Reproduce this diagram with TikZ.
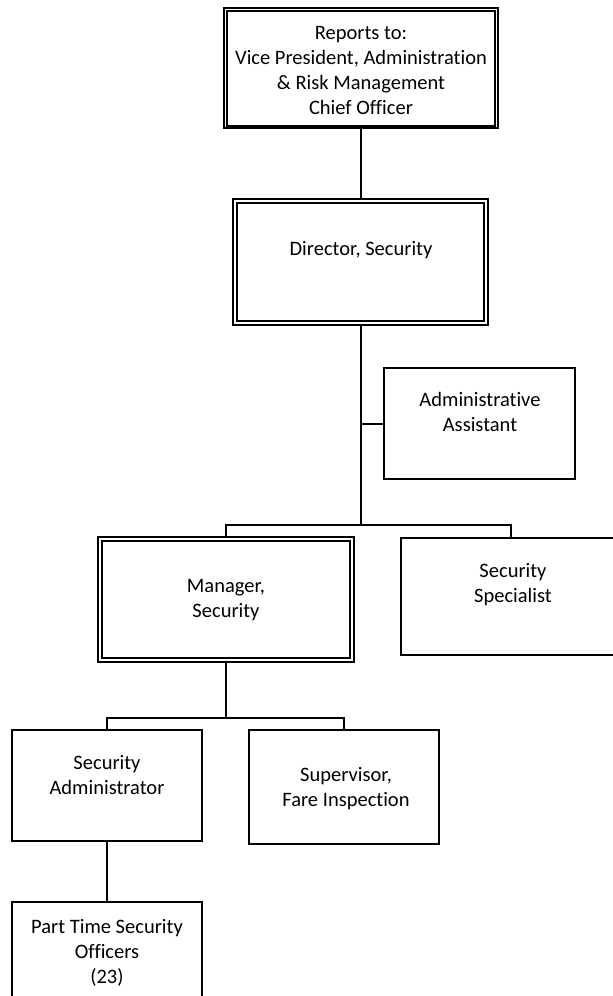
\documentclass[tikz,border=0pt]{standalone}
\usepackage{fontspec}
\setmainfont{Carlito}[Ligatures=NoCommon]
\begin{document}
\begin{tikzpicture}[x=1pt,y=-1pt,
  box/.style={draw, line width=2pt, inner sep=0pt, rectangle},
  outerbox/.style={draw, line width=1.4pt, inner sep=0pt, rectangle},
  innerline/.style={line width=2.2pt},
  lbl/.style={align=center, inner sep=0pt, font=\fontsize{20.5}{25}\selectfont},
  conn/.style={line width=2pt}]
\useasboundingbox (0,0) rectangle (613,996);
\clip (0,0) rectangle (613,996);

% boxes
\node[outerbox, minimum width=274pt, minimum height=120pt] (top) at (361,68) {};
\node[outerbox, minimum width=255pt, minimum height=126pt] (dir) at (360.5,262) {};
\node[box, minimum width=191pt, minimum height=111pt] (asst) at (479.5,423.5) {};
\node[box, minimum width=220pt, minimum height=117pt] (spec) at (511,596.5) {};
\node[outerbox, minimum width=256pt, minimum height=125pt] (mgr) at (226,599.5) {};
\node[box, minimum width=190pt, minimum height=111pt] (sadm) at (107,785.5) {};
\node[box, minimum width=190pt, minimum height=114pt] (sup) at (344,787) {};
\node[box, minimum width=190pt, minimum height=110pt] (pt) at (107,957) {};

% inner rules of the double-framed boxes
\draw[innerline] ([xshift=4pt,yshift=-4pt]top.north west) rectangle ([xshift=-4pt,yshift=3pt]top.south east);
\draw[innerline] ([xshift=5pt,yshift=-5pt]dir.north west) rectangle ([xshift=-5pt,yshift=5pt]dir.south east);
\draw[innerline] ([xshift=5pt,yshift=-5pt]mgr.north west) rectangle ([xshift=-5pt,yshift=5pt]mgr.south east);

% labels
\node[lbl] (ttop) at (361,70) {Reports to:\\Vice President, Administration\\\& Risk Management\\Chief Officer};
\node[lbl] (tdir) at (361,250) {Director, Security};
\node[lbl] (tasst) at (480,412) {Administrative\\Assistant};
\node[lbl] (tspec) at (513,585) {Security\\Specialist};
\node[lbl] (tmgr) at (226,600) {Manager,\\Security};
\node[lbl] (tsadm) at (107,775) {Security\\Administrator};
\node[lbl] (tsup) at (346,789) {Supervisor,\\Fare Inspection};
\node[lbl] (tpt) at (107,953) {Part Time Security\\Officers\\(23)};

% connectors
\coordinate (bar1) at (361,525);
\coordinate (bar2) at (226,718);
\draw[conn] (top.south) -- (top.south |- dir.north);
\draw[conn] (dir.south) -- (dir.south |- bar1);
\draw[conn] (dir.south |- asst.west) -- (asst.west);
\draw[conn] (mgr.north) |- (bar1) -| (spec.north);
\draw[conn] (mgr.south) -- (bar2);
\draw[conn] (sadm.north) |- (bar2) -| (sup.north);
\draw[conn] (sadm.south) -- (pt.north);
\end{tikzpicture}
\end{document}
